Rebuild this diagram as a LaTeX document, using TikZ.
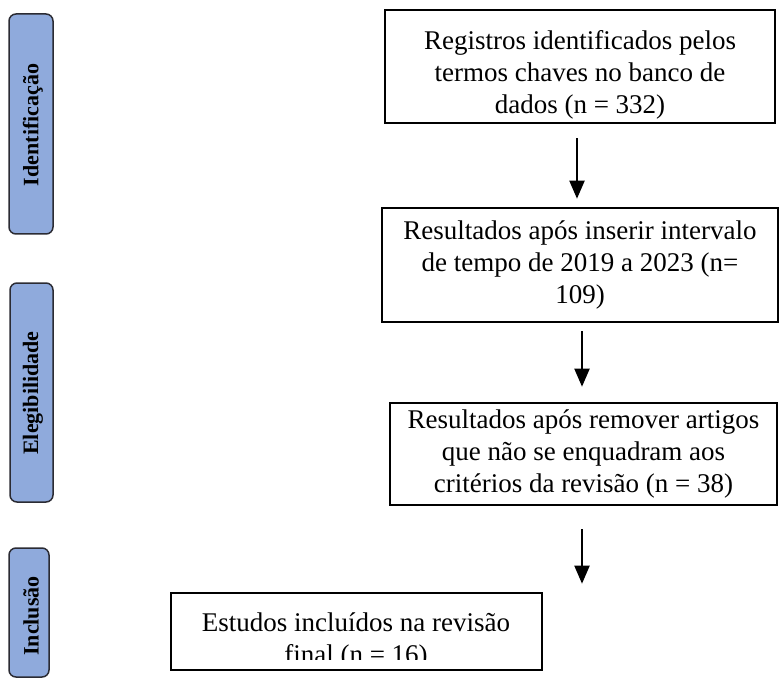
\documentclass[tikz,border=0pt]{standalone}
\usepackage{fontspec}
\setmainfont{Liberation Serif}
\usetikzlibrary{arrows.meta,calc}
\definecolor{barblue}{HTML}{8FAADC}
\definecolor{barline}{HTML}{2B2B33}
\tikzset{
  flowbox/.style={draw=black, line width=2.6pt, inner sep=0pt, align=center,
    font=\fontsize{27}{32.2}\selectfont},
  flowtext/.style={font=\fontsize{27}{32.2}\selectfont, inner sep=0pt, align=center},
  sidebar/.style={draw=barline, line width=1.5pt, fill=barblue, rounded corners=7pt, inner sep=0pt},
  sidelabel/.style={rotate=90, font=\fontsize{22}{24}\selectfont\bfseries, inner sep=0pt},
  arr/.style={line width=2pt, -{Triangle[width=15pt,length=18pt]}},
}
\begin{document}
\begin{tikzpicture}[x=1pt,y=-1pt]
\useasboundingbox (0,0) rectangle (779,679);
% side bars
\node[sidebar, minimum width=44pt, minimum height=220pt] (s1) at (31,124) {};
\node[sidelabel] (l1) at (33,125) {Identificação};
\node[sidebar, minimum width=43pt, minimum height=219pt] (s2) at (31.5,392.5) {};
\node[sidelabel] (l2) at (33,393) {Elegibilidade};
\node[sidebar, minimum width=40pt, minimum height=129pt] (s3) at (29,612.5) {};
\node[sidelabel] (l3) at (31,616) {Inclusão};
% flow boxes
\node[flowbox, minimum width=390pt, minimum height=113pt] (b1) at (580,66.5) {};
\node[flowtext] (t1) at (580,75)
  {Registros identificados pelos\\termos chaves no banco de\\dados (n = 332)};
\node[flowbox, minimum width=396pt, minimum height=114pt] (b2) at (580,265)
  {Resultados após inserir intervalo\\de tempo de 2019 a 2023 (n=\\109)};
\node[flowbox, minimum width=387pt, minimum height=102pt] (b3) at (583.5,454)
  {Resultados após remover artigos\\que não se enquadram aos\\critérios da revisão (n = 38)};
\node[flowbox, minimum width=371pt, minimum height=77pt] (b4) at (356.5,631.5) {};
\begin{scope}
  \clip (172,595) rectangle (541,659);
  \node[flowtext, anchor=base] (t4a) at (356,631) {Estudos incluídos na revisão};
  \node[flowtext, anchor=base] (t4b) at (356,663) {final (n = 16)};
\end{scope}
% arrows
\coordinate (a1s) at ([xshift=-3pt,yshift=-14pt]b1.south);
\coordinate (a1e) at ([xshift=-3pt,yshift=8pt]b2.north);
\coordinate (a2s) at ([xshift=2pt,yshift=-8pt]b2.south);
\coordinate (a2e) at ([xshift=-1.5pt,yshift=15pt]b3.north);
\coordinate (a3s) at ([xshift=-1.5pt,yshift=-23pt]b3.south);
\coordinate (a3e) at (a3s |- b4.north);
\draw[arr] (a1s) -- (a1e);
\draw[arr] (a2s) -- (a2e);
\draw[arr] (a3s) -- ([yshift=8pt]a3e);
\end{tikzpicture}
\end{document}
